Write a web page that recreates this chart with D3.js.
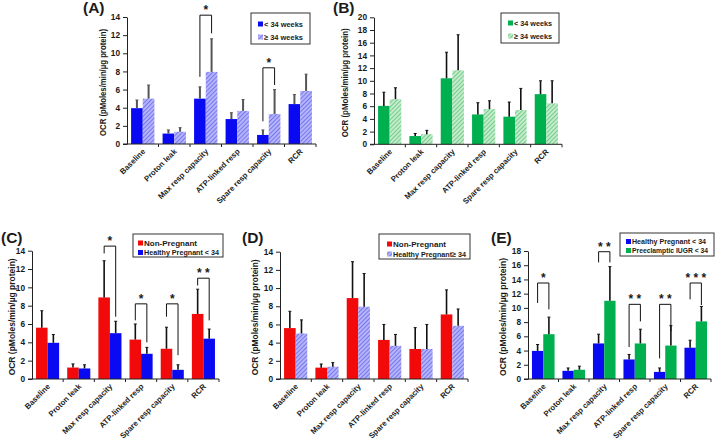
<!DOCTYPE html>
<html><head><meta charset="utf-8">
<script src="https://cdn.jsdelivr.net/npm/d3@7"></script>
<style>
body{margin:0;background:#fff}
svg text{font-family:"Liberation Sans",Arial,sans-serif;font-weight:bold;fill:#1a1a1a}
</style>
</head><body>
<svg id="c" width="720" height="441"></svg>
<script>
// ---------- data ----------
const categories = ["Baseline","Proton leak","Max resp capacity","ATP-linked resp","Spare resp capacity","RCR"];

// Panel A / C / D / E series (mean, SD)
const healthyLt34    = [3.95, 1.15, 5.0, 2.75, 1.0, 4.4];
const healthyLt34Err = [0.9, 0.4, 1.3, 0.7, 0.55, 1.05];
const healthyGe34    = [5.0, 1.35, 7.95, 3.65, 3.3, 5.85];
const healthyGe34Err = [1.5, 0.45, 3.65, 1.25, 2.7, 1.85];
const nonPregnant    = [5.6, 1.25, 8.9, 4.3, 3.3, 7.1];
const nonPregnantErr = [1.85, 0.4, 4.0, 1.7, 2.35, 2.7];
const preeclampticLt34    = [6.3, 1.3, 11.0, 5.0, 4.7, 8.1];
const preeclampticLt34Err = [2.4, 0.5, 4.8, 2.0, 2.8, 2.1];
// Panel B series
const pePlacentaLt34    = [6.05, 1.3, 10.4, 4.7, 4.35, 7.9];
const pePlacentaLt34Err = [2.15, 0.4, 4.1, 1.85, 2.3, 2.1];
const pePlacentaGe34    = [7.1, 1.6, 11.65, 5.55, 5.4, 6.45];
const pePlacentaGe34Err = [1.8, 0.6, 5.6, 1.3, 3.4, 3.55];

// y tick labels
const ticks14 = [0,2,4,6,8,10,12,14];
const ticks18 = [0,2,4,6,8,10,12,14,16,18];
const ticks20 = [0,2,4,6,8,10,12,14,16,18,20];

// significance brackets: category index, bracket top, left leg end, right leg end, stars
const sigA = [{c:2, top:14.2, l:7.4, r:12.2, s:"*"}, {c:4, top:8.4, l:2.5, r:6.5, s:"*"}];
const sigB = [];
const sigC = [{c:2, top:14.5, l:13.7, r:6.8, s:"*"}, {c:3, top:8.2, l:6.4, r:4.0, s:"*"},
              {c:4, top:8.2, l:6.8, r:2.6, s:"*"}, {c:5, top:11.0, l:10.2, r:6.4, s:"* *"}];
const sigD = [];
const sigE = [{c:0, top:13.5, l:10.7, r:9.8, s:"*"}, {c:2, top:17.9, l:16.4, r:16.4, s:"* *"},
              {c:3, top:10.5, l:4.5, r:8.1, s:"* *"}, {c:4, top:10.5, l:2.9, r:6.7, s:"* *"},
              {c:5, top:13.5, l:11.2, r:10.4, s:"* * *"}];

const yTitle = "OCR (pMoles/min/µg protein)";

// ---------- drawing ----------
const svg = d3.select("#c");
const defs = svg.append("defs");
function hatch(id, bg, ln){
  const p = defs.append("pattern").attr("id",id).attr("patternUnits","userSpaceOnUse")
    .attr("width",3).attr("height",3).attr("patternTransform","rotate(45)");
  p.append("rect").attr("width",3).attr("height",3).attr("fill",bg);
  p.append("line").attr("x1",0.5).attr("y1",0).attr("x2",0.5).attr("y2",3).attr("stroke",ln).attr("stroke-width",1);
}
hatch("hB","#b4b4fa","#7777ee");
hatch("hG","#c2ecca","#77cc8e");

const BLUE="#0a0af2", RED="#f20a0a", GREEN="#00b04f";

const panels = [
  {label:"(A)", lx:83, ly:13, x0:127, x1:316, y0:144, y1:17, ticks:ticks14, tx:103, tl:107, errC:"#555", errW:2, sig:sigA,
   series:[{n:"< 34 weeks", w:39, v:healthyLt34, e:healthyLt34Err, f:BLUE},{n:"≥ 34 weeks", w:39, v:healthyGe34, e:healthyGe34Err, f:"url(#hB)"}],
   leg:{x:251,y:13,w:59,h:31,r1:11,r2:24,mx:7,tx:13}},
  {label:"(B)", lx:333, ly:13, x0:374, x1:562, y0:144.3, y1:17.3, ticks:ticks20, tx:345, tl:109, errC:"#111", errW:1.6, sig:sigB,
   series:[{n:"< 34 weeks", w:38, v:pePlacentaLt34, e:pePlacentaLt34Err, f:GREEN},{n:"≥ 34 weeks", w:38, v:pePlacentaGe34, e:pePlacentaGe34Err, f:"url(#hG)"}],
   leg:{x:501,y:13,w:58,h:30,r1:10,r2:23,mx:7,tx:13}},
  {label:"(C)", lx:1, ly:243, x0:32, x1:219, y0:379, y1:250.7, ticks:ticks14, tx:12, tl:117, errC:"#111", errW:1.6, sig:sigC,
   series:[{n:"Non-Pregnant", w:53, v:nonPregnant, e:nonPregnantErr, f:RED},{n:"Healthy Pregnant < 34", w:75, v:healthyLt34, e:healthyLt34Err, f:BLUE}],
   leg:{x:133,y:234,w:90,h:23,r1:9,r2:18.5,mx:5,tx:11}},
  {label:"(D)", lx:242, ly:243, x0:280, x1:468, y0:379, y1:251.7, ticks:ticks14, tx:255, tl:116, errC:"#111", errW:1.6, sig:sigD,
   series:[{n:"Non-Pregnant", w:53, v:nonPregnant, e:nonPregnantErr, f:RED},{n:"Healthy Pregnant≥ 34", w:73, v:healthyGe34, e:healthyGe34Err, f:"url(#hB)"}],
   leg:{x:379,y:234,w:91,h:25,r1:10,r2:20,mx:8,tx:14}},
  {label:"(E)", lx:491, ly:243, x0:528, x1:711, y0:379, y1:251, ticks:ticks18, tx:503, tl:118, errC:"#111", errW:1.6, sig:sigE,
   series:[{n:"Healthy Pregnant < 34", w:74, v:healthyLt34, e:healthyLt34Err, f:BLUE},{n:"Preeclamptic IUGR < 34", w:76, v:preeclampticLt34, e:preeclampticLt34Err, f:GREEN}],
   leg:{x:620,y:233,w:94,h:23,r1:8.5,r2:17.5,mx:6,tx:12}}
];

panels.forEach(p=>{
  const g = svg.append("g");
  const ymax = p.ticks[p.ticks.length-1];
  const y = d3.scaleLinear().domain([0,ymax]).range([p.y0,p.y1]);
  const x = d3.scaleBand().domain(categories).range([p.x0,p.x1]);
  const inner = d3.scaleBand().domain([0,1]).range([0,x.bandwidth()]).paddingOuter(0.35).paddingInner(0);

  // bars
  p.series.forEach((s,si)=>{
    g.selectAll(null).data(categories).enter().append("rect")
      .attr("x",(d)=>x(d)+inner(si)).attr("width",inner.bandwidth())
      .attr("y",(d,i)=>y(s.v[i])).attr("height",(d,i)=>p.y0-y(s.v[i]))
      .attr("fill",s.f);
    g.selectAll(null).data(categories).enter().append("line")
      .attr("x1",(d)=>x(d)+inner(si)+inner.bandwidth()/2).attr("x2",(d)=>x(d)+inner(si)+inner.bandwidth()/2)
      .attr("y1",(d,i)=>y(s.v[i])).attr("y2",(d,i)=>y(s.v[i]+s.e[i]))
      .attr("stroke",p.errC).attr("stroke-width",p.errW);
    g.selectAll(null).data(categories).enter().append("line")
      .attr("x1",(d)=>x(d)+inner(si)+inner.bandwidth()/2-1.5).attr("x2",(d)=>x(d)+inner(si)+inner.bandwidth()/2+1.5)
      .attr("y1",(d,i)=>y(s.v[i]+s.e[i])).attr("y2",(d,i)=>y(s.v[i]+s.e[i]))
      .attr("stroke",p.errC).attr("stroke-width",1);
  });

  // y axis
  const ya = g.append("g").attr("transform",`translate(${p.x0},0)`)
    .call(d3.axisLeft(y).tickValues(p.ticks).tickSize(4).tickSizeOuter(0).tickPadding(3));
  ya.select(".domain").attr("stroke","#222");
  ya.selectAll(".tick line").attr("stroke","#222");
  ya.selectAll("text").style("font-size","8.3px").style("font-family","Liberation Sans, Arial, sans-serif").style("font-weight","bold").attr("fill","#1a1a1a");

  // x axis
  const xa = g.append("g").attr("transform",`translate(0,${p.y0})`)
    .call(d3.axisBottom(x).tickSize(0).tickSizeOuter(0).tickFormat(""));
  xa.select(".domain").attr("stroke","#222").attr("d",`M${p.x0-4},0H${p.x1}`);
  g.selectAll(null).data(categories).enter().append("line")
    .attr("x1",d=>x(d)+x.bandwidth()).attr("x2",d=>x(d)+x.bandwidth())
    .attr("y1",p.y0).attr("y2",p.y0+3).attr("stroke","#222");
  g.selectAll(null).data(categories).enter().append("text")
    .attr("transform",d=>`translate(${x(d)+x.bandwidth()/2+3},${p.y0+8}) rotate(-45)`)
    .attr("text-anchor","end").style("font-size","7.8px").text(d=>d);

  // y title
  g.append("text").attr("transform",`translate(${p.tx},${(p.y0+p.y1)/2+2}) rotate(-90)`)
    .attr("text-anchor","middle").attr("dy","0.35em").style("font-size","8.4px")
    .attr("textLength",p.tl).attr("lengthAdjust","spacingAndGlyphs").text(yTitle);

  // panel label
  g.append("text").attr("x",p.lx).attr("y",p.ly).style("font-size","15.5px").text(p.label);

  // legend
  const L = p.leg;
  g.append("rect").attr("x",L.x).attr("y",L.y).attr("width",L.w).attr("height",L.h)
    .attr("fill","#fff").attr("stroke","#333").attr("stroke-width",1);
  p.series.forEach((s,si)=>{
    const ry = L.y + (si===0?L.r1:L.r2);
    g.append("rect").attr("x",L.x+L.mx).attr("y",ry-2.5).attr("width",5).attr("height",5).attr("fill",s.f);
    g.append("text").attr("x",L.x+L.tx).attr("y",ry).attr("dy","0.35em").style("font-size","7.8px")
      .attr("textLength",s.w).attr("lengthAdjust","spacingAndGlyphs").text(s.n);
  });

  // significance brackets
  p.sig.forEach(b=>{
    const c = categories[b.c];
    const xl = x(c)+inner(0)+inner.bandwidth()/2, xr = x(c)+inner(1)+inner.bandwidth()/2;
    g.append("path").attr("d",`M${xl},${y(b.l)}V${y(b.top)}H${xr}V${y(b.r)}`)
      .attr("fill","none").attr("stroke","#111").attr("stroke-width",1);
    g.append("text").attr("x",(xl+xr)/2).attr("y",y(b.top)-1).attr("text-anchor","middle")
      .style("font-size","12px").text(b.s);
  });
});
</script>
</body></html>
